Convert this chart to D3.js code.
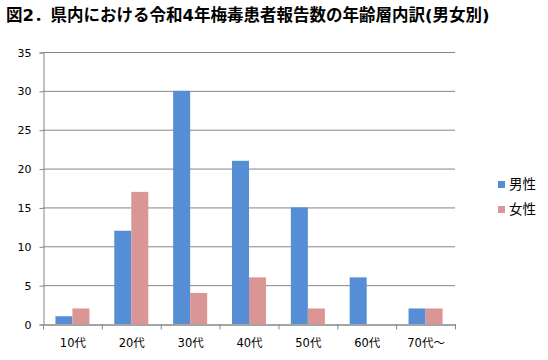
<!DOCTYPE html>
<html>
<head>
<meta charset="utf-8">
<script src="https://cdn.jsdelivr.net/npm/d3@7"></script>
<style>
  body { margin: 0; background: #fff; }
  text { font-family: "DejaVu Sans", "Noto Sans CJK JP", sans-serif; }
</style>
</head>
<body>
<div id="chart"></div>
<script>
// data
const ageGroups = ["10代", "20代", "30代", "40代", "50代", "60代", "70代～"];
const maleCounts = [1, 12, 30, 21, 15, 6, 2];
const femaleCounts = [2, 17, 4, 6, 2, 0, 2];
const seriesNames = ["男性", "女性"];
const yTicks = [0, 5, 10, 15, 20, 25, 30, 35];

const colors = ["#558ed5", "#d99694"];
const W = 548, H = 360;
const plotLeft = 43, plotRight = 455, plotTop = 52, plotBottom = 324;

let svg = d3.select("#chart").append("svg")
  .attr("width", W).attr("height", H);

// title
svg.append("text")
  .attr("x", 6).attr("y", 21)
  .attr("font-family", "'Noto Sans CJK JP', sans-serif")
  .attr("font-size", 16.5)
  .attr("font-weight", "bold")
  .text("図2．県内における令和4年梅毒患者報告数の年齢層内訳(男女別)");

let x = d3.scaleBand().domain(ageGroups).range([plotLeft, plotRight]).paddingInner(0).paddingOuter(0);
let xs = d3.scaleBand().domain(seriesNames).range([0, x.bandwidth()]).paddingInner(0).paddingOuter(0.73);
let y = d3.scaleLinear().domain([0, 35]).range([plotBottom, plotTop]);

// gridlines
svg.append("g").selectAll("line")
  .data(yTicks.filter(d => d > 0))
  .enter().append("line")
  .attr("x1", plotLeft).attr("x2", plotRight)
  .attr("y1", d => y(d) + 0.5).attr("y2", d => y(d) + 0.5)
  .attr("stroke", "#868686");

// bars
let rows = ageGroups.map((g, i) => ({ g: g, vals: [maleCounts[i], femaleCounts[i]] }));
svg.append("g").selectAll("g")
  .data(rows)
  .enter().append("g")
  .attr("transform", d => `translate(${x(d.g)},0)`)
  .selectAll("rect")
  .data(d => d.vals.map((v, k) => ({ k: k, v: v })))
  .enter().append("rect")
  .attr("x", d => xs(seriesNames[d.k]))
  .attr("width", xs.bandwidth())
  .attr("y", d => y(d.v))
  .attr("height", d => y(0) - y(d.v))
  .attr("fill", d => colors[d.k]);

// y axis
let yAxis = svg.append("g")
  .attr("transform", `translate(${plotLeft + 0.5},0.5)`)
  .call(d3.axisLeft(y).tickValues(yTicks).tickSize(4).tickPadding(8));
yAxis.select(".domain").attr("stroke", "#868686");
yAxis.selectAll(".tick line").attr("stroke", "#868686");
yAxis.selectAll("text").attr("font-size", 11).attr("fill", "#000").attr("font-family", "Tahoma, 'DejaVu Sans', sans-serif");

// x axis
let xAxis = svg.append("g")
  .attr("transform", `translate(0.5,${plotBottom + 0.5})`)
  .call(d3.axisBottom(x).tickSize(0).tickPadding(14));
xAxis.select(".domain").attr("stroke", "#868686").attr("stroke-width", 1.5);
xAxis.selectAll("text").attr("font-size", 11.5).attr("fill", "#000")
  .attr("font-family", "'Noto Sans CJK JP', sans-serif");
// category separator ticks
xAxis.selectAll(".sep")
  .data(d3.range(ageGroups.length + 1))
  .enter().append("line")
  .attr("x1", i => plotLeft + i * x.step()).attr("x2", i => plotLeft + i * x.step())
  .attr("y1", 0).attr("y2", 5)
  .attr("stroke", "#868686");

// legend
let legend = svg.append("g").selectAll("g")
  .data(seriesNames)
  .enter().append("g")
  .attr("transform", (d, i) => `translate(498,${181 + i * 25})`);
legend.append("rect").attr("width", 7).attr("height", 7)
  .attr("fill", (d, i) => colors[i]);
legend.append("text").attr("x", 11).attr("y", 8)
  .attr("font-size", 13.5)
  .attr("font-family", "'Noto Sans CJK JP', sans-serif")
  .text(d => d);
</script>
</body>
</html>
